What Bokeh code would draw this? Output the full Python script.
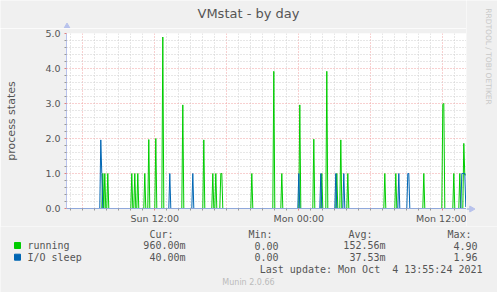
import math
from bokeh.plotting import figure
from bokeh.layouts import column, row
from bokeh.models import Range1d, FixedTicker, ColumnDataSource, PrintfTickFormatter
from bokeh.core.properties import value
from bokeh.embed import file_html
from bokeh.resources import INLINE

# ---- data (5-minute samples; all other samples are 0) ----
running_times = ["Sun 07:40", "Sun 07:50", "Sun 08:05", "Sun 10:05", "Sun 10:20", "Sun 10:35",
                 "Sun 11:10", "Sun 11:30", "Sun 12:05", "Sun 12:40", "Sun 14:20", "Sun 16:05",
                 "Sun 16:50", "Sun 17:05", "Sun 17:30", "Sun 17:35", "Sun 20:05", "Sun 21:55",
                 "Sun 22:35", "Mon 00:05", "Mon 01:15", "Mon 01:55", "Mon 02:20", "Mon 03:10",
                 "Mon 03:30", "Mon 04:05", "Mon 07:10", "Mon 08:05", "Mon 10:25", "Mon 12:00",
                 "Mon 12:05", "Mon 12:55", "Mon 13:25", "Mon 13:45", "Mon 13:50", "Mon 13:55"]
running_vals = [1.0, 1.0, 1.0, 1.0, 1.0, 1.0,
                1.0, 1.97, 2.0, 4.9, 2.96, 1.96,
                1.0, 1.0, 1.0, 1.0, 1.0, 3.92,
                1.0, 2.96, 1.98, 1.0, 3.92, 1.0,
                1.96, 1.0, 1.0, 1.0, 1.0, 2.98,
                3.0, 1.0, 1.0, 1.86, 0.96, 0.96]
io_times = ["Sun 07:30", "Sun 07:35", "Sun 13:15", "Sun 15:10", "Mon 00:00", "Mon 01:50",
            "Mon 03:05", "Mon 03:45", "Mon 08:20", "Mon 09:05", "Mon 09:10", "Mon 13:35",
            "Mon 13:40", "Mon 13:45", "Mon 13:50", "Mon 13:55"]
io_vals = [1.96, 1.0, 1.0, 1.0, 1.0, 1.0,
           1.0, 1.0, 1.0, 1.0, 1.0, 1.0,
           1.0, 1.0, 1.0, 0.04]
first_sample = "Sun 04:40"
last_sample = "Mon 13:55"

x_tick_hours = [12, 24, 36]
x_tick_labels = ["Sun 12:00", "Mon 00:00", "Mon 12:00"]
y_ticks = [0, 1, 2, 3, 4, 5]

series_names = ["running", "I/O sleep"]
series_colors = ["#00CC00", "#0066B3"]
col_heads = ["Cur:", "Min:", "Avg:", "Max:"]
cur_vals = ["960.00m", "40.00m"]
min_vals = ["0.00", "0.00"]
avg_vals = ["152.56m", "37.53m"]
max_vals = ["4.90", "1.96"]
last_update = "Last update: Mon Oct\u00a0 4 13:55:24 2021"
title_text = "VMstat - by day"
side_text = "RRDTOOL / TOBI OETIKER"
footer_text = "Munin 2.0.66"


def to_min(s):
    day, hm = s.split()
    h, m = hm.split(":")
    return (0 if day == "Sun" else 1440) + int(h) * 60 + int(m)


t0, t1 = to_min(first_sample), to_min(last_sample)
grid_min = list(range(t0, t1 + 1, 5))
run_map = {to_min(t): v for t, v in zip(running_times, running_vals)}
io_map = {to_min(t): v for t, v in zip(io_times, io_vals)}
src = ColumnDataSource(dict(
    x=[m / 60 for m in grid_min],
    run=[run_map.get(m, 0.0) for m in grid_min],
    io=[io_map.get(m, 0.0) for m in grid_min],
))

BG = "#F0F0F0"
GREY = "#555555"
AX_V = "#B8C2EC"
AX_H = "#8FA8DC"
X0, X1 = 4.642, 37.975
W, H = 497, 292
TOPS, FL, FR, FB, MAINB = 28, 66, 466, 209, 226


def strip(w, x0, x1, y0, y1):
    f = figure(width=w, height=int(y1 - y0), output_backend="svg", toolbar_location=None,
               x_range=Range1d(x0, x1), y_range=Range1d(y1, y0), title_location=None,
               min_border=0, background_fill_color=BG, border_fill_color=BG,
               outline_line_color=None, frame_align=False)
    f.axis.visible = False
    f.grid.visible = False
    return f


# ---- top strip: title + y axis arrow tip ----
top = strip(FR, 0, FR, 0, TOPS)
top.text(x=[248], y=[13], text=[title_text], text_font=value("DejaVu Sans"),
         text_font_size=value("13px"), text_color=GREY, text_align="center",
         text_baseline="middle")
top.segment(x0=[FL + 0.5], y0=[26], x1=[FL + 0.5], y1=[TOPS], line_color=AX_V)
top.scatter(x=[FL + 0.5], y=[26], marker="triangle", size=6,
            fill_color=AX_V, line_color=AX_V)

# ---- main plot ----
p = figure(width=FR, height=MAINB - TOPS, output_backend="svg", toolbar_location=None,
           x_range=Range1d(X0, X1), y_range=Range1d(0, 5), title_location=None,
           min_border_left=FL, min_border_right=0, min_border_top=5,
           min_border_bottom=MAINB - FB, frame_align=False,
           background_fill_color="white", border_fill_color=BG,
           outline_line_color=None)

p.line("x", "run", source=src, line_color=series_colors[0], line_width=1)
p.line("x", "io", source=src, line_color=series_colors[1], line_width=1)

p.xaxis.ticker = FixedTicker(ticks=x_tick_hours, minor_ticks=[h for h in range(5, 38) if h % 12])
p.xaxis.major_label_overrides = {h: l for h, l in zip(x_tick_hours, x_tick_labels)}
p.xaxis.axis_line_color = AX_H
p.xaxis.major_label_standoff = 2
p.yaxis.ticker = FixedTicker(ticks=y_ticks, minor_ticks=[i / 5 for i in range(26) if i % 5])
p.yaxis.formatter = PrintfTickFormatter(format="%.1f")
p.yaxis.axis_line_color = AX_V
p.yaxis.major_label_standoff = 4
p.yaxis.axis_label = "process states"
p.yaxis.axis_label_standoff = 24
p.yaxis.axis_label_text_font = "DejaVu Sans"
p.yaxis.axis_label_text_font_size = "11px"
p.yaxis.axis_label_text_font_style = "normal"
p.yaxis.axis_label_text_color = GREY
for ax in (p.xaxis, p.yaxis):
    ax.major_tick_line_color = "#E08080"
    ax.major_tick_out = 2
    ax.major_tick_in = 0
    ax.minor_tick_line_color = "#999999"
    ax.minor_tick_out = 2
    ax.minor_tick_in = 0
    ax.major_label_text_font = "DejaVu Sans"
    ax.major_label_text_font_size = "9.5px"
    ax.major_label_text_color = GREY

p.xgrid.ticker = FixedTicker(ticks=list(range(6, 37, 6)), minor_ticks=[h for h in range(5, 38) if h % 6])
p.ygrid.ticker = FixedTicker(ticks=y_ticks, minor_ticks=[i / 5 for i in range(26) if i % 5])
for g in (p.xgrid, p.ygrid):
    g.grid_line_color = "#F0A0A0"
    g.grid_line_dash = "1 2"
    g.minor_grid_line_color = "#CFCFCF"
    g.minor_grid_line_dash = "1 2"

# ---- right strip: vendor text + x axis arrow ----
right = strip(W - FR, FR, W, 0, MAINB)
right.text(x=[488], y=[56], text=[side_text], text_font=value("DejaVu Sans"),
           text_font_size=value("7.5px"), text_color="#C8C8C8", text_align="center",
           text_baseline="middle", angle=-math.pi / 2)
right.segment(x0=[FR], y0=[FB - 0.5], x1=[FR + 5], y1=[FB - 0.5], line_color=AX_H)
right.scatter(x=[FR + 5], y=[FB - 0.5], marker="triangle", angle=-math.pi / 2, size=6,
              fill_color=AX_V, line_color=AX_V)

# ---- legend strip ----
leg = strip(W, 0, W, MAINB, H)
mono = dict(text_font=value("DejaVu Sans Mono"), text_font_size=value("10px"),
            text_color=GREY, text_baseline="middle")
leg.text(x=[149, 248, 348, 447], y=[234] * 4, text=col_heads, text_align="left", **mono)
rows_y = [245, 256.7]
leg.scatter(x=[17, 17], y=rows_y, marker="square", size=6, fill_color=series_colors,
            line_color=series_colors)
leg.text(x=[27, 27], y=rows_y, text=series_names, text_align="left", **mono)
for xr, vals in zip([185, 278, 385, 477], [cur_vals, min_vals, avg_vals, max_vals]):
    leg.text(x=[xr, xr], y=rows_y, text=vals, text_align="right", **mono)
leg.text(x=[482], y=[268.7], text=[last_update], text_align="right", **mono)
leg.text(x=[248], y=[282], text=[footer_text], text_font=value("DejaVu Sans"),
         text_font_size=value("8px"), text_color="#BBBBBB", text_align="center",
         text_baseline="middle")

layout = column(row(column(top, p, spacing=0), right, spacing=0), leg, spacing=0)
open("out.html", "w").write(file_html(layout, INLINE))
